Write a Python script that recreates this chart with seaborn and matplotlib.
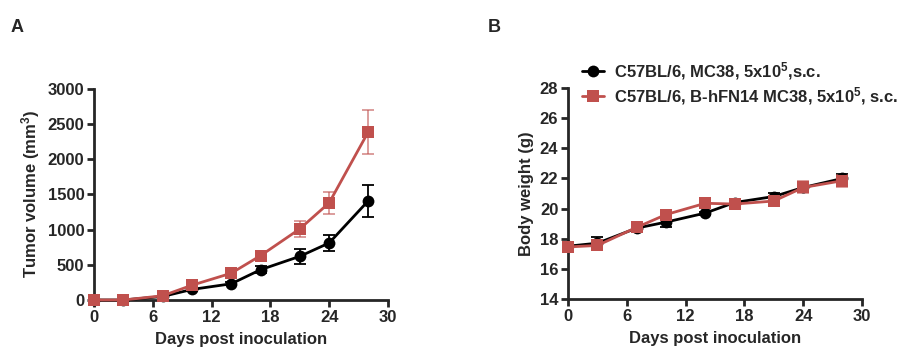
import pandas as pd
import matplotlib
matplotlib.use("Agg")
import matplotlib.pyplot as plt
import seaborn as sns

# Data
days = [0, 3, 7, 10, 14, 17, 21, 24, 28]

vol_wt = [0, 0, 50, 150, 230, 430, 620, 810, 1410]
vol_wt_err = [0, 0, 10, 20, 20, 50, 110, 120, 230]
vol_hfn = [0, 0, 60, 210, 380, 630, 1010, 1380, 2390]
vol_hfn_err = [0, 0, 10, 30, 20, 30, 110, 160, 310]

bw_wt = [17.5, 17.7, 18.7, 19.1, 19.7, 20.4, 20.8, 21.4, 22.0]
bw_wt_err = [0.1, 0.4, 0.2, 0.3, 0.1, 0.2, 0.2, 0.3, 0.3]
bw_hfn = [17.45, 17.55, 18.75, 19.6, 20.35, 20.3, 20.5, 21.4, 21.85]
bw_hfn_err = [0.1, 0.2, 0.3, 0.2, 0.1, 0.2, 0.3, 0.4, 0.4]

groups = ["C57BL/6, MC38, 5x10$^{5}$,s.c.",
          "C57BL/6, B-hFN14 MC38, 5x10$^{5}$, s.c."]
colors = ["#000000", "#C0504D"]

sns.set_theme(style="ticks")
plt.rcParams["font.family"] = ["Liberation Sans", "DejaVu Sans"]
plt.rcParams["font.weight"] = "bold"
plt.rcParams["mathtext.fontset"] = "custom"
plt.rcParams["mathtext.rm"] = "Liberation Sans:bold"
plt.rcParams["mathtext.default"] = "rm"

FS = 12

df_vol = pd.DataFrame({
    "day": days * 2,
    "value": vol_wt + vol_hfn,
    "err": vol_wt_err + vol_hfn_err,
    "group": [groups[0]] * len(days) + [groups[1]] * len(days),
})
df_bw = pd.DataFrame({
    "day": days * 2,
    "value": bw_wt + bw_hfn,
    "err": bw_wt_err + bw_hfn_err,
    "group": [groups[0]] * len(days) + [groups[1]] * len(days),
})

fig = plt.figure(figsize=(8.98, 3.61), dpi=100)
axA = fig.add_axes([0.1047, 0.169, 0.3273, 0.585])
axB = fig.add_axes([0.6325, 0.172, 0.3275, 0.584])

palette = dict(zip(groups, colors))
markers = dict(zip(groups, ["o", "s"]))


def draw(ax, df, show_legend):
    for g, c, a in zip(groups, colors, [1.0, 0.6]):
        sub = df[df["group"] == g]
        ax.errorbar(sub["day"], sub["value"], yerr=sub["err"], fmt="none",
                    ecolor=c, elinewidth=1.3, capsize=4.5, capthick=1.3,
                    alpha=a, zorder=2, clip_on=False)
    sns.lineplot(data=df, x="day", y="value", hue="group", style="group",
                 palette=palette, markers=markers, dashes=False,
                 markersize=8.5, markeredgewidth=0, linewidth=2,
                 ax=ax, legend=show_legend, zorder=3, clip_on=False)


draw(axA, df_vol, False)
draw(axB, df_bw, True)

axA.set_ylim(0, 3000)
axA.set_yticks(range(0, 3001, 500))
axA.set_ylabel("Tumor volume (mm$^{3}$)", fontsize=FS, fontweight="bold")

axB.set_ylim(14, 28)
axB.set_yticks(range(14, 29, 2))
axB.set_ylabel("Body weight (g)", fontsize=FS, fontweight="bold")

for ax in (axA, axB):
    sns.despine(ax=ax)
    ax.spines["left"].set_linewidth(2)
    ax.spines["bottom"].set_linewidth(2)
    ax.tick_params(width=2, length=5, labelsize=FS, direction="out", pad=2)
    for lab in ax.get_xticklabels() + ax.get_yticklabels():
        lab.set_fontweight("bold")
    ax.set_xlim(0, 30)
    ax.set_xticks(range(0, 31, 6))
    ax.set_xlabel("Days post inoculation", fontsize=FS, fontweight="bold",
                  labelpad=5)

leg = axB.legend(loc="upper left", bbox_to_anchor=(0.025, 1.165), frameon=False,
                 fontsize=FS, handlelength=1.3, labelspacing=0.2,
                 handletextpad=0.6, borderaxespad=0)
for t in leg.get_texts():
    t.set_fontweight("bold")

fig.text(0.012, 0.91, "A", fontsize=13, fontweight="bold")
fig.text(0.543, 0.91, "B", fontsize=13, fontweight="bold")

fig.savefig("out.png", dpi=100)
